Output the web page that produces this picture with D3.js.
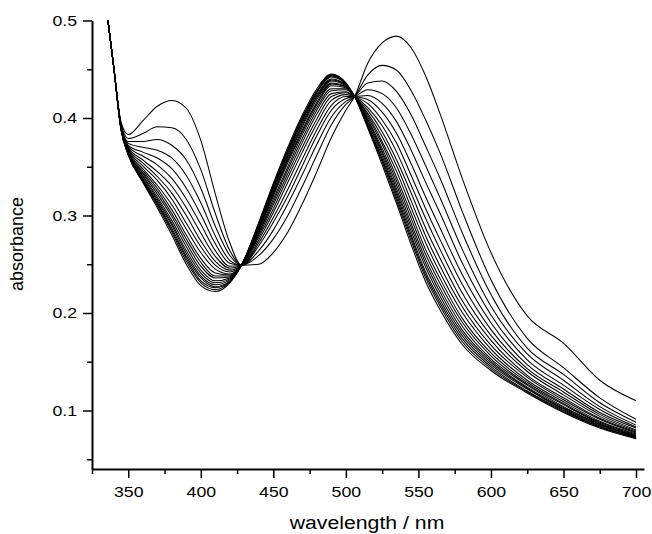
<!DOCTYPE html>
<html>
<head>
<meta charset="utf-8">
<script src="https://cdn.jsdelivr.net/npm/d3@7"></script>
<style>
  body { margin: 0; background: #fff; }
  svg { display: block; }
  text { font-family: "Liberation Sans", Arial, sans-serif; fill: #000; }
</style>
</head>
<body>
<svg width="652" height="534"></svg>
<script>
var wavelengths = [336, 340, 345, 350, 360, 370, 380, 390, 400, 410, 420, 428, 440, 450, 460, 470,
                   480, 490, 500, 506, 515, 525, 535, 545, 555, 565, 580, 600, 625, 650, 675, 700]

// absorbance of each successive scan (first = top curve at 535 nm, last = final spectrum)
var scan01 = [.500,.452,.396,.383,.397,.412,.418,.410,.377,.322,.272,.249,.250,.262,.283,.312,.345,.380,.408,.422,.456,.477,.484,.472,.443,.404,.339,.262,.197,.169,.131,.110]
var scan02 = [.500,.452,.394,.379,.384,.391,.390,.378,.347,.302,.264,.249,.259,.276,.300,.330,.362,.393,.414,.422,.444,.454,.449,.428,.398,.364,.305,.234,.174,.144,.113,.091]
var scan03 = [.500,.452,.393,.376,.376,.378,.372,.357,.328,.289,.259,.249,.264,.285,.312,.342,.373,.401,.417,.422,.436,.438,.427,.403,.371,.338,.283,.219,.164,.137,.108,.088]
var scan04 = [.500,.452,.393,.374,.370,.367,.359,.341,.313,.279,.254,.249,.269,.293,.320,.351,.382,.408,.420,.422,.429,.425,.410,.383,.351,.318,.266,.207,.158,.131,.104,.085]
var scan05 = [.500,.452,.392,.372,.365,.359,.348,.328,.301,.271,.251,.249,.272,.298,.327,.358,.388,.413,.422,.422,.423,.415,.396,.367,.334,.302,.252,.198,.152,.126,.101,.083]
var scan06 = [.500,.452,.391,.371,.361,.352,.338,.317,.291,.264,.248,.249,.275,.303,.334,.365,.394,.418,.424,.422,.419,.406,.384,.353,.319,.287,.240,.190,.147,.122,.098,.082]
var scan07 = [.500,.452,.391,.370,.357,.345,.330,.308,.282,.258,.246,.249,.278,.307,.339,.370,.399,.422,.426,.422,.415,.398,.374,.341,.307,.275,.230,.183,.143,.119,.096,.080]
var scan08 = [.500,.452,.391,.369,.354,.340,.323,.300,.274,.253,.244,.249,.280,.311,.343,.375,.404,.425,.427,.422,.411,.392,.365,.331,.297,.265,.221,.177,.140,.116,.094,.079]
var scan09 = [.500,.452,.390,.368,.351,.336,.317,.292,.268,.249,.242,.249,.282,.314,.347,.379,.408,.428,.429,.422,.408,.386,.357,.323,.287,.256,.213,.172,.136,.113,.092,.078]
var scan10 = [.500,.452,.390,.367,.348,.331,.311,.286,.262,.245,.240,.249,.283,.317,.350,.383,.411,.430,.430,.422,.405,.381,.351,.315,.279,.248,.207,.167,.134,.111,.091,.077]
var scan11 = [.500,.452,.390,.366,.346,.328,.306,.280,.256,.241,.239,.249,.285,.320,.354,.386,.414,.433,.431,.422,.403,.376,.345,.308,.272,.241,.201,.163,.131,.109,.089,.076]
var scan12 = [.500,.452,.389,.365,.344,.325,.302,.276,.252,.238,.238,.249,.286,.322,.356,.388,.416,.435,.432,.422,.401,.373,.339,.302,.265,.235,.195,.159,.129,.107,.088,.075]
var scan13 = [.500,.452,.389,.365,.343,.322,.299,.272,.248,.236,.237,.249,.287,.323,.358,.391,.419,.436,.432,.422,.399,.369,.335,.297,.260,.230,.191,.156,.127,.106,.087,.074]
var scan14 = [.500,.452,.389,.364,.341,.319,.295,.268,.244,.233,.236,.249,.288,.325,.360,.393,.421,.438,.433,.422,.398,.366,.331,.292,.255,.225,.187,.153,.126,.104,.086,.074]
var scan15 = [.500,.452,.389,.364,.340,.317,.292,.264,.241,.231,.235,.249,.289,.327,.362,.395,.422,.439,.434,.422,.396,.364,.327,.288,.251,.221,.183,.151,.124,.103,.086,.073]
var scan16 = [.500,.452,.389,.364,.338,.315,.290,.261,.238,.229,.234,.249,.290,.328,.364,.397,.424,.440,.434,.422,.395,.361,.324,.284,.247,.217,.180,.149,.123,.102,.085,.073]
var scan17 = [.500,.452,.388,.363,.337,.313,.287,.258,.236,.227,.233,.249,.291,.329,.366,.398,.426,.442,.435,.422,.393,.358,.321,.280,.242,.213,.177,.147,.122,.101,.084,.072]
var scan18 = [.500,.452,.388,.363,.336,.312,.285,.256,.233,.226,.232,.249,.292,.331,.367,.400,.427,.443,.435,.422,.392,.357,.318,.277,.239,.210,.174,.145,.120,.100,.083,.072]
var scan19 = [.500,.452,.388,.362,.335,.310,.283,.253,.231,.224,.232,.249,.292,.332,.368,.401,.428,.444,.435,.422,.391,.355,.315,.274,.236,.207,.171,.143,.119,.099,.083,.072]
var scan20 = [.500,.452,.388,.362,.334,.308,.280,.250,.228,.222,.231,.249,.293,.333,.370,.403,.430,.445,.436,.422,.390,.352,.312,.270,.232,.203,.168,.141,.118,.098,.082,.071]

var scans = [scan01, scan02, scan03, scan04, scan05, scan06, scan07, scan08, scan09, scan10,
             scan11, scan12, scan13, scan14, scan15, scan16, scan17, scan18, scan19, scan20]

var xTicks = [350, 400, 450, 500, 550, 600, 650, 700]
var xMinorTicks = [325, 375, 425, 475, 525, 575, 625, 675]
var yTicks = [0.1, 0.2, 0.3, 0.4, 0.5]
var yMinorTicks = [0.05, 0.15, 0.25, 0.35, 0.45]

// the original figure is a bit wider than tall, text included
var stretch = 1.18

var svg = d3.select('svg')

var x = d3.scaleLinear().domain([325, 705.5]).range([92, 644])
var y = d3.scaleLinear().domain([0.04, 0.5]).range([469, 20.5])

var line = d3.line()
    .x(function(d, i) { return x(wavelengths[i]) })
    .y(function(d) { return y(d) })
    .curve(d3.curveMonotoneX)

svg.append('g')
    .attr('class', 'scans')
  .selectAll('path')
  .data(scans)
  .enter().append('path')
    .attr('d', line)
    .attr('fill', 'none')
    .attr('stroke', '#000')
    .attr('stroke-width', 1.05)

// axes: major ticks with labels, minor ticks without
var gx = svg.append('g').attr('transform', 'translate(0,469)')
gx.call(d3.axisBottom(x).tickValues(xTicks).tickSize(9).tickPadding(8)
    .tickSizeOuter(0).tickFormat(d3.format('d')))
gx.append('g').call(d3.axisBottom(x).tickValues(xMinorTicks).tickSize(5)
    .tickSizeOuter(0).tickFormat(''))
  .select('.domain').remove()

var gy = svg.append('g').attr('transform', 'translate(92,0)')
gy.call(d3.axisLeft(y).tickValues(yTicks).tickSize(9).tickPadding(6)
    .tickSizeOuter(0).tickFormat(d3.format('.1f')))
gy.append('g').call(d3.axisLeft(y).tickValues(yMinorTicks).tickSize(5)
    .tickSizeOuter(0).tickFormat(''))
  .select('.domain').remove()

svg.selectAll('.domain').attr('stroke-width', 2)
svg.selectAll('.tick line').attr('stroke-width', 1.5)
svg.selectAll('.tick text')
    .style('font-family', '"Liberation Sans", Arial, sans-serif')
    .attr('font-size', 15)

svg.append('text')
    .attr('class', 'title')
    .attr('x', 367)
    .attr('y', 529)
    .attr('text-anchor', 'middle')
    .attr('font-size', 18)
    .text('wavelength / nm')

svg.append('text')
    .attr('transform', 'translate(23,244) rotate(-90)')
    .attr('text-anchor', 'middle')
    .attr('font-size', 18)
    .text('absorbance')

// widen horizontal text like in the picture
svg.selectAll('.tick text, .title').each(function() {
  var w = this.getComputedTextLength()
  d3.select(this).attr('textLength', w * stretch).attr('lengthAdjust', 'spacingAndGlyphs')
})
</script>
</body>
</html>
